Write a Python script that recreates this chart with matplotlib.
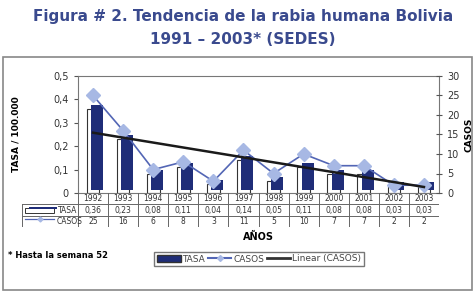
import numpy as np
import matplotlib.pyplot as plt
from matplotlib.patches import Rectangle
from matplotlib.lines import Line2D
from matplotlib.ticker import FuncFormatter

# datos
anios = ["1992", "1993", "1994", "1995", "1996", "1997", "1998", "1999", "2000", "2001", "2002", "2003"]
tasa = [0.36, 0.23, 0.08, 0.11, 0.04, 0.14, 0.05, 0.11, 0.08, 0.08, 0.03, 0.03]
casos = [25, 16, 6, 8, 3, 11, 5, 10, 7, 7, 2, 2]
tasa_txt = ["0,36", "0,23", "0,08", "0,11", "0,04", "0,14", "0,05", "0,11", "0,08", "0,08", "0,03", "0,03"]

W, H = 476, 296
navy = "#1f2d78"
azul = "#5366b5"
celeste = "#a7b8e4"
titulo_col = "#3a4a8e"

fig = plt.figure(figsize=(W / 100, H / 100), dpi=100)


def fx(px):
    return px / W


def fy(py):
    return 1 - py / H


# titulo
fig.text(0.51, fy(17), "Figura # 2. Tendencia de la rabia humana Bolivia", ha="center", va="center",
         fontsize=11, fontweight="bold", color=titulo_col)
fig.text(0.51, fy(40), "1991 \u2013 2003* (SEDES)", ha="center", va="center",
         fontsize=11, fontweight="bold", color=titulo_col)

# marco exterior
fig.patches.append(Rectangle((fx(3), fy(290)), fx(469), (290 - 57) / H, transform=fig.transFigure,
                             fill=False, edgecolor="#888888", linewidth=1.2))

# grafico principal
L, R, T, B = 78, 439, 76, 193
ax = fig.add_axes([fx(L), fy(B), fx(R - L), (B - T) / H])
x = np.arange(len(anios))
ax.bar(x + 0.0, tasa, width=0.42, color="white", edgecolor="#333333", linewidth=0.8, zorder=2)
ax.bar(x + 0.13, [t + 0.005 for t in tasa], bottom=0.012, width=0.4, color=navy, zorder=3)
ax.set_xlim(-0.5, len(anios) - 0.5)
ax.set_ylim(0, 0.5)
ax.set_yticks([0, 0.1, 0.2, 0.3, 0.4, 0.5])
ax.yaxis.set_major_formatter(FuncFormatter(lambda v, p: "0" if v == 0 else f"{v:.1f}".replace(".", ",")))
ax.set_xticks([])
ax.tick_params(axis="y", labelsize=7, length=3, color="#555555", labelcolor="#333333")
for s in ax.spines.values():
    s.set_color("#777777")
    s.set_linewidth(0.8)
ax.set_ylabel("TASA / 100.000", fontsize=6.5, fontweight="bold", labelpad=24)

ax2 = ax.twinx()
ax2.plot(x, casos, color=azul, linewidth=1.2, marker="D", markersize=7,
         markerfacecolor=celeste, markeredgecolor=celeste, zorder=4)
a, b = np.polyfit(x, casos, 1)
ax2.plot(x, a * x + b, color="#1a1a1a", linewidth=1.8, zorder=5)
ax2.set_ylim(0, 30)
ax2.set_yticks(range(0, 31, 5))
ax2.tick_params(axis="y", labelsize=7, length=5, direction="inout", color="#555555", labelcolor="#333333")
for s in ax2.spines.values():
    s.set_visible(False)
ax2.set_ylabel("CASOS", fontsize=6.5, fontweight="bold", labelpad=3)

# tabla de datos
TL, TB = 22, 227
tab = fig.add_axes([fx(TL), fy(TB), fx(R - TL), (TB - B) / H])
cw = (R - L) / len(anios)
off = (L - TL) / cw
tab.set_xlim(-0.5 - off, len(anios) - 0.5)
tab.set_ylim(3, 0)
tab.axis("off")
lc = "#666666"
for i in range(len(anios) + 1):
    tab.plot([i - 0.5, i - 0.5], [0, 3], color=lc, linewidth=0.7)
tab.plot([-0.5 - off, -0.5 - off], [1, 3], color=lc, linewidth=0.7)
for yy in [1, 2, 3]:
    tab.plot([-0.5 - off, len(anios) - 0.5], [yy, yy], color=lc, linewidth=0.7)
for i in range(len(anios)):
    tab.text(i, 0.5, anios[i], ha="center", va="center", fontsize=5.5, color="#333333")
    tab.text(i, 1.5, tasa_txt[i], ha="center", va="center", fontsize=5.5, color="#333333")
    tab.text(i, 2.5, str(casos[i]), ha="center", va="center", fontsize=5.5, color="#333333")
# claves de la tabla
k0 = -0.5 - off + 0.1
tab.add_patch(Rectangle((k0, 1.35), 0.95, 0.4, facecolor="white", edgecolor="#333333", linewidth=0.7))
tab.add_patch(Rectangle((k0 + 0.12, 1.25), 0.95, 0.2, facecolor=navy, edgecolor="none"))
tab.text(k0 + 1.1, 1.55, "TASA", ha="left", va="center", fontsize=5.5, color="#333333")
tab.plot([k0, k0 + 0.95], [2.3, 2.3], color=azul, linewidth=0.9)
tab.plot([k0 + 0.5], [2.3], marker="D", markersize=2.5, color=celeste)
tab.text(k0 + 1.05, 2.55, "CASOS", ha="left", va="center", fontsize=5.5, color="#333333")

fig.text(fx(258), fy(237), "AÑOS", ha="center", va="center", fontsize=7, fontweight="bold")
fig.text(fx(8), fy(256), "* Hasta la semana 52", ha="left", va="center", fontsize=6, fontweight="bold")

# leyenda inferior
h1 = Rectangle((0, 0), 1, 1, facecolor=navy, edgecolor="#333333")
h2 = Line2D([], [], color=azul, marker="D", markersize=3, markerfacecolor=celeste, markeredgecolor=celeste)
h3 = Line2D([], [], color="#333333", linewidth=2)
fig.legend([h1, h2, h3], ["TASA", "CASOS", "Linear (CASOS)"], loc="center", bbox_to_anchor=(fx(259), fy(259)),
           ncol=3, fontsize=6.5, frameon=True, fancybox=False, edgecolor="#555555", handlelength=2.6,
           handletextpad=0.2, columnspacing=0.3, borderpad=0.3, labelcolor="#444444")

plt.savefig("out.png", dpi=100)
